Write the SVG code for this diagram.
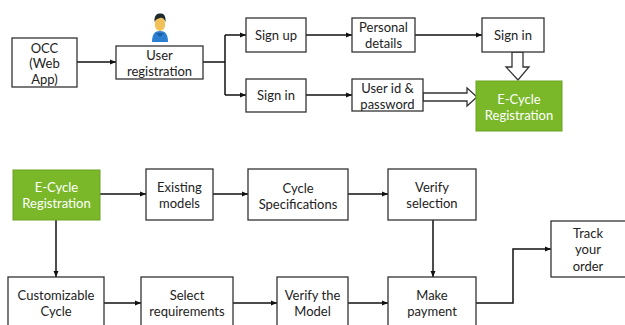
<svg xmlns="http://www.w3.org/2000/svg" width="625" height="325" viewBox="0 0 625 325">
<defs>
<marker id="ah" viewBox="0 0 6 6" refX="6" refY="3" markerWidth="6" markerHeight="6" markerUnits="userSpaceOnUse" orient="auto">
<path d="M0,0.5 L6,3 L0,5.5 Z" fill="#111"/>
</marker>
</defs>
<style>
.box{fill:#fff;stroke:#333;stroke-width:1.3}
.green{fill:#7ab829;stroke:#6aa322;stroke-width:1}
.t{font-family:Lato,"Liberation Sans",sans-serif;font-size:13px;fill:#222;text-anchor:middle}
.tw{font-family:Lato,"Liberation Sans",sans-serif;font-size:13px;fill:#fff;text-anchor:middle}
.c{fill:none;stroke:#111;stroke-width:1.5}
.blk{fill:#fff;stroke:#333;stroke-width:1.3;stroke-linejoin:miter}
</style>
<rect width="625" height="325" fill="#fff"/>

<g id="connectors">
<path class="c" d="M77 62 H116" marker-end="url(#ah)"/>
<path class="c" d="M203 62 H225"/>
<path class="c" d="M225 35 V95"/>
<path class="c" d="M225 35 H246" marker-end="url(#ah)"/>
<path class="c" d="M225 95 H246" marker-end="url(#ah)"/>
<path class="c" d="M306 35 H352" marker-end="url(#ah)"/>
<path class="c" d="M415 35 H482" marker-end="url(#ah)"/>
<path class="c" d="M306 95 H352" marker-end="url(#ah)"/>
<polygon class="blk" points="512,52 523,52 523,67 529,67 518,80 506,67 512,67"/>
<polygon class="blk" points="423,93 467,93 467,88 477,97 467,106 467,101 423,101"/>
<path class="c" d="M100 194 H146" marker-end="url(#ah)"/>
<path class="c" d="M213 194 H248" marker-end="url(#ah)"/>
<path class="c" d="M348 194 H388" marker-end="url(#ah)"/>
<path class="c" d="M56 220 V277" marker-end="url(#ah)"/>
<path class="c" d="M433 220 V277" marker-end="url(#ah)"/>
<path class="c" d="M104 303 H141" marker-end="url(#ah)"/>
<path class="c" d="M233 303 H277" marker-end="url(#ah)"/>
<path class="c" d="M348 303 H388" marker-end="url(#ah)"/>
<path class="c" d="M476 303 H513 V249 H551" marker-end="url(#ah)"/>
</g>

<g id="occ">
<rect class="box" x="12" y="38" width="65" height="49"/>
<text class="t" x="44.5" y="52.5">OCC</text>
<text class="t" x="44.5" y="68.3">(Web</text>
<text class="t" x="44.5" y="84.1">App)</text>
</g>

<g id="user-icon">
<path d="M152,42 C152,34 155,31 160,31 C165,31 168,34 168,42 Z" fill="#2b7fd1"/>
<path d="M156,33 L160,37 L164,33 Z" fill="#1a5fa8"/>
<ellipse cx="160" cy="24" rx="5.2" ry="7" fill="#f2c25a"/>
<path d="M154.5,22 C154,15 157,13.5 160.5,13.5 C164,13.5 166,16 165.5,22 C164,18 162,17.5 160,18 C158,18.5 156,19 154.5,22 Z" fill="#1f2a2e"/>
</g>

<g id="user-registration">
<rect class="box" x="116" y="46" width="87" height="33"/>
<text class="t" x="159.5" y="59.5">User</text>
<text class="t" x="159.5" y="75.5">registration</text>
</g>

<g id="sign-up">
<rect class="box" x="246" y="18" width="60" height="34"/>
<text class="t" x="276" y="39.5">Sign up</text>
</g>

<g id="sign-in-left">
<rect class="box" x="246" y="79" width="60" height="33"/>
<text class="t" x="276" y="100">Sign in</text>
</g>

<g id="personal-details">
<rect class="box" x="352" y="18" width="63" height="34"/>
<text class="t" x="383.5" y="31.5">Personal</text>
<text class="t" x="383.5" y="47.5">details</text>
</g>

<g id="sign-in-right">
<rect class="box" x="482" y="18" width="62" height="34"/>
<text class="t" x="513" y="39.5">Sign in</text>
</g>

<g id="user-id-password">
<rect class="box" x="352" y="79" width="71" height="32"/>
<text class="t" x="387.5" y="92.5">User id &amp;</text>
<text class="t" x="387.5" y="108.5">password</text>
</g>

<g id="ecycle-top">
<rect class="green" x="476" y="81" width="86" height="50"/>
<text class="tw" x="519" y="103.5">E-Cycle</text>
<text class="tw" x="519" y="119.5">Registration</text>
</g>

<g id="ecycle-bottom">
<rect class="green" x="13" y="170" width="87" height="50"/>
<text class="tw" x="56.5" y="191.5">E-Cycle</text>
<text class="tw" x="56.5" y="207.5">Registration</text>
</g>

<g id="existing-models">
<rect class="box" x="146" y="169" width="67" height="51"/>
<text class="t" x="179.5" y="191.5">Existing</text>
<text class="t" x="179.5" y="207.5">models</text>
</g>

<g id="cycle-specifications">
<rect class="box" x="248" y="169" width="100" height="51"/>
<text class="t" x="298" y="192.5">Cycle</text>
<text class="t" x="298" y="208.5">Specifications</text>
</g>

<g id="verify-selection">
<rect class="box" x="388" y="169" width="88" height="51"/>
<text class="t" x="432" y="191.5">Verify</text>
<text class="t" x="432" y="207.5">selection</text>
</g>

<g id="customizable-cycle">
<rect class="box" x="8" y="277" width="96" height="60"/>
<text class="t" x="56" y="299.5">Customizable</text>
<text class="t" x="56" y="315.5">Cycle</text>
</g>

<g id="select-requirements">
<rect class="box" x="141" y="277" width="92" height="60"/>
<text class="t" x="187" y="299.5">Select</text>
<text class="t" x="187" y="315.5">requirements</text>
</g>

<g id="verify-model">
<rect class="box" x="277" y="277" width="71" height="60"/>
<text class="t" x="312.5" y="299.5">Verify the</text>
<text class="t" x="312.5" y="315.5">Model</text>
</g>

<g id="make-payment">
<rect class="box" x="388" y="277" width="88" height="60"/>
<text class="t" x="432" y="299.5">Make</text>
<text class="t" x="432" y="315.5">payment</text>
</g>

<g id="track-order">
<rect class="box" x="551" y="221" width="80" height="56"/>
<text class="t" x="588" y="237.5">Track</text>
<text class="t" x="588" y="254">your</text>
<text class="t" x="588" y="270.5">order</text>
</g>
</svg>
